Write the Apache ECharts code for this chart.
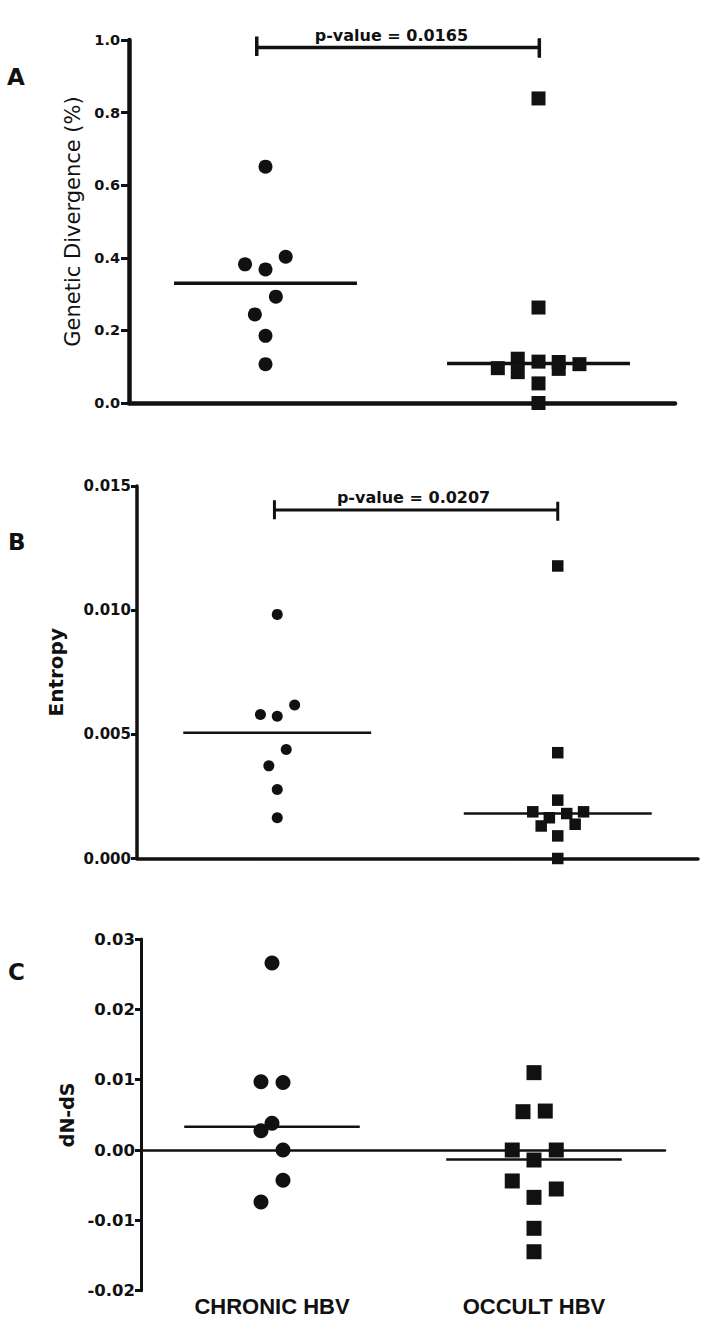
<!DOCTYPE html>
<html>
<head>
<meta charset="utf-8">
<script src="https://cdn.jsdelivr.net/npm/echarts@6/dist/echarts.min.js"></script>
<style>
html,body{margin:0;padding:0;background:#fff;}
#main{width:709px;height:1334px;}
</style>
</head>
<body>
<div id="main"></div>
<script>
// ---------- data ----------
const groups = ['CHRONIC HBV', 'OCCULT HBV'];
const pValues = ['0.0165', '0.0207'];

// Panel A: Genetic divergence (%)
const divTicks = [0, 0.2, 0.4, 0.6, 0.8, 1.0];
const divChronic = [0.651, 0.403, 0.382, 0.368, 0.293, 0.244, 0.185, 0.107];
const divChronicJitter = [0, 0.074, -0.075, 0, 0.038, -0.039, 0, 0];
const divOccult = [0.839, 0.263, 0.096, 0.122, 0.085, 0.114, 0.113, 0.094, 0.107, 0.054, 0.0];
const divOccultJitter = [0, 0, -0.149, -0.076, -0.076, 0, 0.074, 0.074, 0.150, 0, 0];
const divMedians = [0.330, 0.109];

// Panel B: Entropy
const entTicks = [0, 0.005, 0.010, 0.015];
const entChronic = [0.00983, 0.00618, 0.00580, 0.00573, 0.00439, 0.00373, 0.00278, 0.00164];
const entChronicJitter = [0, 0.062, -0.060, 0, 0.032, -0.030, 0, 0];
const entOccult = [0.01178, 0.00426, 0.00235, 0.00188, 0.00188, 0.00164, 0.00181, 0.00131, 0.00138, 0.00091, 0.0];
const entOccultJitter = [0, 0, 0, -0.089, 0.092, -0.030, 0.032, -0.059, 0.062, 0, 0];
const entMedians = [0.00506, 0.00181];

// Panel C: dN-dS
const dndsTicks = [-0.02, -0.01, 0.00, 0.01, 0.02, 0.03];
const dndsChronic = [0.0266, 0.0097, 0.0096, 0.0038, 0.00275, 0.0, -0.0043, -0.0074];
const dndsChronicJitter = [0, -0.042, 0.042, 0, -0.042, 0.042, 0.042, -0.042];
const dndsOccult = [0.011, 0.00545, 0.00554, 0.0, 0.0, -0.00142, -0.0044, -0.00554, -0.00673, -0.01113, -0.01446];
const dndsOccultJitter = [0, -0.042, 0.043, -0.083, 0.085, 0, -0.083, 0.085, 0, 0, 0];
const dndsMedians = [0.00332, -0.00133];

// ---------- helpers ----------
const INK = '#111';
const FONT = 'DejaVu Sans';
const FONT2 = '"Liberation Sans", Arial, sans-serif';
const MED_HALF = 0.335;

function pts(values, jitter, groupPos) {
  return values.map((v, i) => [groupPos + jitter[i], v]);
}

function yAxisFor(idx, ticks, digits, name, opts) {
  return {
    gridIndex: idx, type: 'value',
    min: ticks[0], max: ticks[ticks.length - 1], interval: ticks[1] - ticks[0],
    axisLine: {show: true, lineStyle: {color: INK, width: opts.lineW}},
    axisTick: {show: true, inside: false, length: opts.tickLen, lineStyle: {color: INK, width: opts.tickW}},
    axisLabel: {color: INK, fontFamily: FONT, fontWeight: 'bold', fontSize: opts.labelSize, margin: opts.labelMargin,
      formatter: v => v.toFixed(digits)},
    splitLine: {show: false},
    name: name, nameLocation: 'middle', nameGap: opts.nameGap,
    nameTextStyle: {color: INK, fontFamily: FONT, fontWeight: opts.nameWeight, fontSize: opts.nameSize}
  };
}

function xAxisFor(idx, lineW) {
  return {
    gridIndex: idx, type: 'value', min: 0.5, max: 2.5,
    axisLine: {show: true, onZero: true, lineStyle: {color: INK, width: lineW}},
    axisTick: {show: false}, axisLabel: {show: false}, splitLine: {show: false}
  };
}

function scatter(axisIdx, data, symbol, size) {
  return {
    type: 'scatter', xAxisIndex: axisIdx, yAxisIndex: axisIdx, data: data,
    symbol: symbol, symbolSize: size, itemStyle: {color: INK, opacity: 1}, z: 3, silent: true
  };
}

function median(axisIdx, groupPos, value, width) {
  return {
    type: 'line', xAxisIndex: axisIdx, yAxisIndex: axisIdx,
    data: [[groupPos - MED_HALF, value], [groupPos + MED_HALF, value]],
    symbol: 'none', lineStyle: {color: INK, width: width}, z: 4, silent: true
  };
}

function bracket(axisIdx, x1, x2, y, yTop, yBot, width, label, labelX) {
  return [{
    type: 'line', xAxisIndex: axisIdx, yAxisIndex: axisIdx, clip: false,
    data: [[x1, yTop], [x1, yBot], [x1, y], [x2, y], [x2, yTop], [x2, yBot]],
    symbol: 'none', lineStyle: {color: INK, width: width, cap: 'square'}, z: 4, silent: true
  }, {
    type: 'scatter', xAxisIndex: axisIdx, yAxisIndex: axisIdx, clip: false,
    data: [[labelX, y]], symbol: 'circle', symbolSize: 1,
    itemStyle: {color: 'rgba(255,255,255,0)'},
    label: {show: true, position: 'top', distance: 4, formatter: 'p-value = ' + label,
      color: INK, fontFamily: FONT, fontWeight: 'bold', fontSize: 16, opacity: 1},
    z: 5, silent: true
  }];
}

// ---------- chart ----------
const chart = echarts.init(document.getElementById('main'), null, {renderer: 'svg'});

const option = {
  backgroundColor: '#fff',
  animation: false,
  grid: [
    {left: 129, right: 34, top: 40, bottom: 931},
    {left: 137, right: 11, top: 486, bottom: 475.5},
    {left: 141, right: 44, top: 939, bottom: 43.3}
  ],
  xAxis: [
    xAxisFor(0, 4.5),
    xAxisFor(1, 3.5),
    xAxisFor(2, 2.5),
    {
      gridIndex: 2, type: 'value', min: 0.5, max: 2.5, position: 'bottom',
      axisLine: {show: false, onZero: false}, axisTick: {show: false}, splitLine: {show: false},
      axisLabel: {show: true, customValues: [1, 2], margin: 5, color: INK, fontFamily: FONT2,
        fontWeight: 'bold', fontSize: 22, formatter: v => groups[Math.round(v) - 1]}
    }
  ],
  yAxis: [
    yAxisFor(0, divTicks, 1, 'Genetic Divergence (%)',
      {lineW: 4.5, tickLen: 8, tickW: 3, labelSize: 14.5, labelMargin: 9, nameGap: 45, nameWeight: 'normal', nameSize: 21}),
    yAxisFor(1, entTicks, 3, 'Entropy',
      {lineW: 3.5, tickLen: 6, tickW: 3, labelSize: 15, labelMargin: 6, nameGap: 71, nameWeight: 'bold', nameSize: 20}),
    yAxisFor(2, dndsTicks, 2, 'dN-dS',
      {lineW: 3, tickLen: 6, tickW: 3, labelSize: 16.5, labelMargin: 6, nameGap: 60, nameWeight: 'bold', nameSize: 19})
  ],
  series: [
    scatter(0, pts(divChronic, divChronicJitter, 1), 'circle', 14),
    scatter(0, pts(divOccult, divOccultJitter, 2), 'rect', 14),
    median(0, 1, divMedians[0], 3.5),
    median(0, 2, divMedians[1], 3.5),
    ...bracket(0, 0.968, 2.003, 0.979, 1.005, 0.956, 3.5, pValues[0], 1.461),

    scatter(1, pts(entChronic, entChronicJitter, 1), 'circle', 11),
    scatter(1, pts(entOccult, entOccultJitter, 2), 'rect', 11.5),
    median(1, 1, entMedians[0], 2.5),
    median(1, 2, entMedians[1], 2.5),
    ...bracket(1, 0.99, 2.0, 0.01403, 0.01437, 0.01366, 3, pValues[1], 1.486),

    scatter(2, pts(dndsChronic, dndsChronicJitter, 1), 'circle', 15),
    scatter(2, pts(dndsOccult, dndsOccultJitter, 2), 'rect', 15),
    median(2, 1, dndsMedians[0], 2.5),
    median(2, 2, dndsMedians[1], 2.5)
  ],
  graphic: [
    {type: 'text', left: 7, top: 65, style: {text: 'A', font: 'bold 23px "DejaVu Sans"', fill: INK}},
    {type: 'text', left: 8, top: 530, style: {text: 'B', font: 'bold 23px "DejaVu Sans"', fill: INK}},
    {type: 'text', left: 8, top: 960, style: {text: 'C', font: 'bold 23px "DejaVu Sans"', fill: INK}}
  ]
};

chart.setOption(option);
</script>
</body>
</html>
